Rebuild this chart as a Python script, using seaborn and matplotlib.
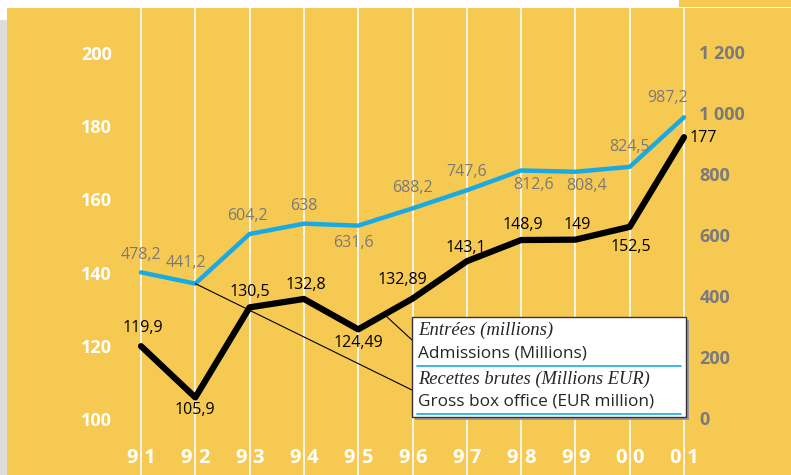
import matplotlib
matplotlib.use("Agg")
import matplotlib.pyplot as plt
import seaborn as sns
import pandas as pd
from matplotlib.patches import Rectangle

# --- Datos ---
years = ["91", "92", "93", "94", "95", "96", "97", "98", "99", "00", "01"]
admissions = [119.9, 105.9, 130.5, 132.8, 124.49, 132.89, 143.1, 148.9, 149, 152.5, 177]
box_office = [478.2, 441.2, 604.2, 638, 631.6, 688.2, 747.6, 812.6, 808.4, 824.5, 987.2]
adm_labels = ["119,9", "105,9", "130,5", "132,8", "124,49", "132,89", "143,1", "148,9", "149", "152,5", "177"]
box_labels = ["478,2", "441,2", "604,2", "638", "631,6", "688,2", "747,6", "812,6", "808,4", "824,5", "987,2"]
left_ticks = [100, 120, 140, 160, 180, 200]
right_ticks = [0, 200, 400, 600, 800, 1000, 1200]
right_tick_labels = ["0", "200", "400", "600", "800", "1 000", "1 200"]

# posiciones de las etiquetas (pixeles respecto al punto)
adm_off = [(2, 18), (0, -13), (0, 15), (2, 14), (0, -14), (-10, 19), (-1, 13), (2, 15), (2, 15), (1, -20), (19, -1)]
box_off = [(0, 17), (-9, 21), (-2, 18), (0, 18), (-5, -17), (0, 20), (0, 18), (12, -15), (11, -14), (0, 20), (-16, 19)]

YELLOW = "#F6C952"
BLUE = "#19AAE4"
GREY = "#7A7A7A"
W, H = 791, 475

df = pd.DataFrame({"x": range(len(years)), "adm": admissions, "box": box_office})

sns.set_style("white", {"axes.facecolor": YELLOW})
plt.rcParams["font.family"] = ["Open Sans", "DejaVu Sans"]

fig = plt.figure(figsize=(W / 100, H / 100), dpi=100)
fig.patch.set_facecolor("white")
ax = fig.add_axes([7 / W, 0, 784 / W, 467 / H])
ax2 = ax.twinx()

# escalas: indice 0 en x=141px, paso 54.3px
step = 54.3
ax.set_xlim(-(141 - 7) / step, 10 + (791 - 684) / step)
ax.set_ylim(100 - 56 / 3.66, 100 + 411 / 3.66)
ax2.set_ylim(-57 / 0.3046, 410 / 0.3046)

for s in ax.spines.values():
    s.set_visible(False)
for s in ax2.spines.values():
    s.set_visible(False)

ax.set_xticks(range(len(years)))
ax.set_xticklabels([])
ax.grid(axis="x", color="white", lw=1.2)
ax.tick_params(axis="x", length=0)

sns.lineplot(data=df, x="x", y="adm", ax=ax, color="black", lw=4.5, zorder=3)
sns.lineplot(data=df, x="x", y="box", ax=ax2, color=BLUE, lw=3.2, zorder=3)
ax.set_xlabel("")
ax.set_ylabel("")
ax2.set_ylabel("")

ax.set_yticks(left_ticks)
ax.set_yticklabels([str(t) for t in left_ticks], color="white", fontweight="bold", fontsize=13)
ax.tick_params(axis="y", length=0, pad=-75.6)
ax2.set_yticks(right_ticks)
ax2.set_yticklabels(right_tick_labels, color=GREY, fontweight="bold", fontsize=13)
ax2.tick_params(axis="y", length=0, pad=-66)

# etiquetas de valores
for i in range(len(years)):
    ax.annotate(adm_labels[i], (i, admissions[i]), xytext=adm_off[i], textcoords="offset pixels",
                ha="center", va="center", fontsize=11.5, color="black")
    ax2.annotate(box_labels[i], (i, box_office[i]), xytext=box_off[i], textcoords="offset pixels",
                 ha="center", va="center", fontsize=11.5, color=GREY)

# etiquetas de años partidas por la linea
for i, y in enumerate(years):
    ax.annotate(y[0], (i, 0.036), xycoords=("data", "axes fraction"), xytext=(-3, 0),
                textcoords="offset pixels", ha="right", va="center", color="white",
                fontweight="bold", fontsize=14.5)
    ax.annotate(y[1], (i, 0.036), xycoords=("data", "axes fraction"), xytext=(3, 0),
                textcoords="offset pixels", ha="left", va="center", color="white",
                fontweight="bold", fontsize=14.5)

# lineas guia hacia la leyenda
def fpx(x, y):
    return (x / W, 1 - y / H)

ax2.annotate("", xy=(1, box_office[1]), xytext=fpx(412, 390), textcoords="figure fraction",
             arrowprops=dict(arrowstyle="-", color="black", lw=0.8, shrinkA=0, shrinkB=0))
ax.annotate("", xy=fpx(386, 316), xycoords="figure fraction", xytext=fpx(412, 340),
            textcoords="figure fraction",
            arrowprops=dict(arrowstyle="-", color="black", lw=0.8, shrinkA=0, shrinkB=0))

# fondo: borde gris a la izquierda y recuadro amarillo arriba a la derecha
fig.patches.append(Rectangle((0, 0), 7 / W, 1 - 20 / H, transform=fig.transFigure,
                             facecolor="#dddddd", edgecolor="none", zorder=0))
fig.patches.append(Rectangle(fpx(679, 7), 112 / W, 7 / H, transform=fig.transFigure,
                             facecolor=YELLOW, edgecolor="none", zorder=1))

# leyenda
fig.patches.append(Rectangle(fpx(415, 420), 274 / W, 100 / H, transform=fig.transFigure,
                             facecolor="#9a9a9a", edgecolor="none", zorder=5))
fig.patches.append(Rectangle(fpx(412, 417), 274 / W, 100 / H, transform=fig.transFigure,
                             facecolor="white", edgecolor="#333333", lw=1, zorder=6))
serif = ["Liberation Serif", "DejaVu Serif"]
fig.text(*fpx(418, 330), "Entrées (millions)", family=serif, style="italic", fontsize=13.5,
         va="center", zorder=7)
fig.text(*fpx(418, 354), "Admissions (Millions)", fontsize=12.4, va="center", zorder=7)
fig.text(*fpx(418, 379), "Recettes brutes (Millions EUR)", family=serif, style="italic",
         fontsize=13.3, va="center", zorder=7)
fig.text(*fpx(418, 402), "Gross box office (EUR million)", fontsize=12.4, va="center", zorder=7)
for yy in (366, 414):
    fig.add_artist(plt.Line2D([417 / W, 681 / W], [1 - yy / H] * 2, transform=fig.transFigure,
                              color=BLUE, lw=1.2, zorder=7))

fig.savefig("out.png", dpi=100, facecolor=fig.get_facecolor())
